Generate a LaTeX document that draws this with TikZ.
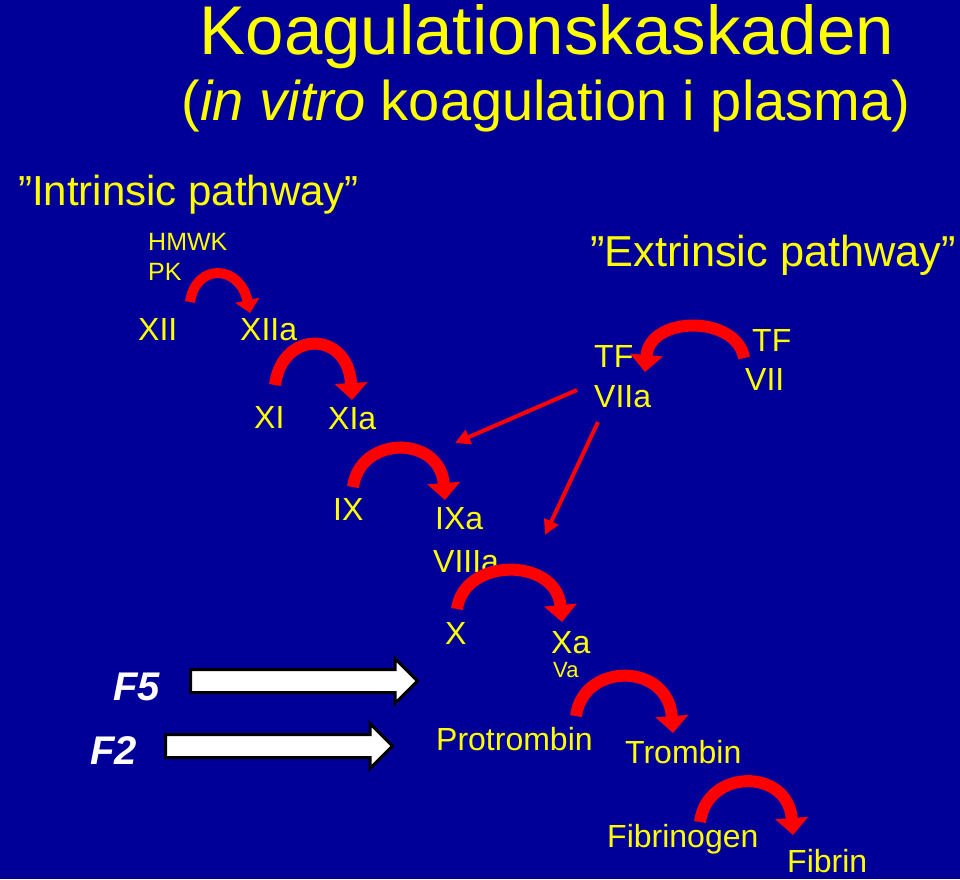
\documentclass[tikz,border=0pt]{standalone}
\usepackage{fontspec}
\setmainfont{Liberation Sans}
\usetikzlibrary{arrows.meta,shapes.arrows}
\definecolor{slidebg}{RGB}{0,0,153}
\definecolor{slideyel}{RGB}{255,255,0}
\definecolor{slidered}{RGB}{255,0,0}
\newcommand\fsz[1]{\fontsize{#1}{#1}\selectfont}

\begin{document}
\begin{tikzpicture}[x=1pt,y=1pt,
  lbl/.style={text=slideyel,inner sep=0pt,anchor=base west,font=\fsz{32}},
  cascade/.style={slidered,line width=12pt,-{Triangle[width=32pt,length=17pt]}},
  signal/.style={slidered,line width=4pt,-{Triangle[width=15pt,length=15pt]}},
  block/.style={single arrow,draw=black,fill=white,line width=3pt,inner sep=0pt,inner ysep=10pt,
    single arrow head extend=11pt,minimum height=227pt,anchor=west}]
  \fill[slidebg] (0,0) rectangle (960,-879);
  \useasboundingbox (0,0) rectangle (960,-879);
  % headings
  \node[lbl,anchor=base,font=\fsz{69},text height=50pt] (title) at (547,-54) {Koagulationskaskaden};
  \node[lbl,anchor=base,font=\fsz{56}] (subtitle) at (546,-120) {(\textit{in vitro} koagulation i plasma)};
  \node[lbl,font=\fsz{42}] (intr) at (18,-205) {”Intrinsic pathway”};
  \node[lbl,font=\fsz{43.3}] (extr) at (590,-266) {”Extrinsic pathway”};
  % intrinsic factors
  \node[lbl,font=\fsz{25}] (hmwk) at (148,-250) {HMWK};
  \node[lbl,font=\fsz{25}] (pk) at (148,-280) {PK};
  \node[lbl] (XII) at (138,-340) {XII};
  \node[lbl] (XIIa) at (240,-340) {XIIa};
  \node[lbl] (XI) at (254,-428) {XI};
  \node[lbl] (XIa) at (328,-429) {XIa};
  \node[lbl] (IX) at (333,-520) {IX};
  \node[lbl] (IXa) at (435,-529) {IXa};
  \node[lbl] (VIIIa) at (433,-572) {VIIIa};
  % extrinsic factors
  \node[lbl] (TFa) at (594,-367) {TF};
  \node[lbl] (VIIa) at (594,-407) {VIIa};
  \node[lbl] (TF) at (752,-351) {TF};
  \node[lbl] (VII) at (745,-390) {VII};
  % common pathway
  \node[lbl] (X) at (445,-644) {X};
  \node[lbl] (Xa) at (551,-653) {Xa};
  \node[lbl,font=\fsz{22}] (Va) at (553,-677) {Va};
  \node[lbl] (prot) at (436,-750) {Protrombin};
  \node[lbl] (trom) at (625,-763) {Trombin};
  \node[lbl] (fibg) at (607,-847) {Fibrinogen};
  \node[lbl] (fibr) at (787,-872) {Fibrin};
  \node[lbl,text=white,font=\fsz{40}\bfseries\itshape] (F5) at (113,-700) {F5};
  \node[lbl,text=white,font=\fsz{40}\bfseries\itshape] (F2) at (90,-764) {F2};
  \node[block] (arrF5) at (189,-681) {};
  \node[block] (arrF2) at (164,-746) {};
  % activation arcs
  \draw[cascade,line width=10pt,-{Triangle[width=24pt,length=13pt]}]
    ([shift={(52,38)}]XII.base west) .. controls ([shift={(58,78)}]XII.base west) and ([shift={(102,75)}]XII.base west) .. ([shift={(10,27)}]XIIa.base west);
  \draw[cascade] ([shift={(21,43)}]XI.base west) .. controls ([shift={(28,98)}]XI.base west) and ([shift={(20,99)}]XIa.base west) .. ([shift={(24,29)}]XIa.base west);
  \draw[cascade] ([shift={(20,33)}]IX.base west) .. controls ([shift={(27,85)}]IX.base west) and ([shift={(5,94)}]IXa.base west) .. ([shift={(10,29)}]IXa.base west);
  \draw[cascade] ([shift={(12,35)}]X.base west) .. controls ([shift={(19,87)}]X.base west) and ([shift={(5,96)}]Xa.base west) .. ([shift={(11,31)}]Xa.base west);
  \draw[cascade] ([shift={(140,34)}]prot.base west) .. controls ([shift={(147,88)}]prot.base west) and ([shift={(43,101)}]trom.base west) .. ([shift={(48,30)}]trom.base west);
  \draw[cascade] ([shift={(93,25)}]fibg.base west) .. controls ([shift={(100,79)}]fibg.base west) and ([shift={(1,104)}]fibr.base west) .. ([shift={(6,37)}]fibr.base west);
  \draw[cascade] ([shift={(-1,32)}]VII.base west) .. controls ([shift={(-8,75)}]VII.base west) and ([shift={(56,52)}]TFa.base west) .. ([shift={(51,-5)}]TFa.base west);
  % TF-VIIa signals
  \coordinate (toIX) at (455,-443);
  \coordinate (toX) at (545,-535);
  \draw[signal] ([shift={(-17,17)}]VIIa.base west) -- (toIX);
  \draw[signal] ([shift={(4,-15)}]VIIa.base west) -- (toX);
\end{tikzpicture}
\end{document}
